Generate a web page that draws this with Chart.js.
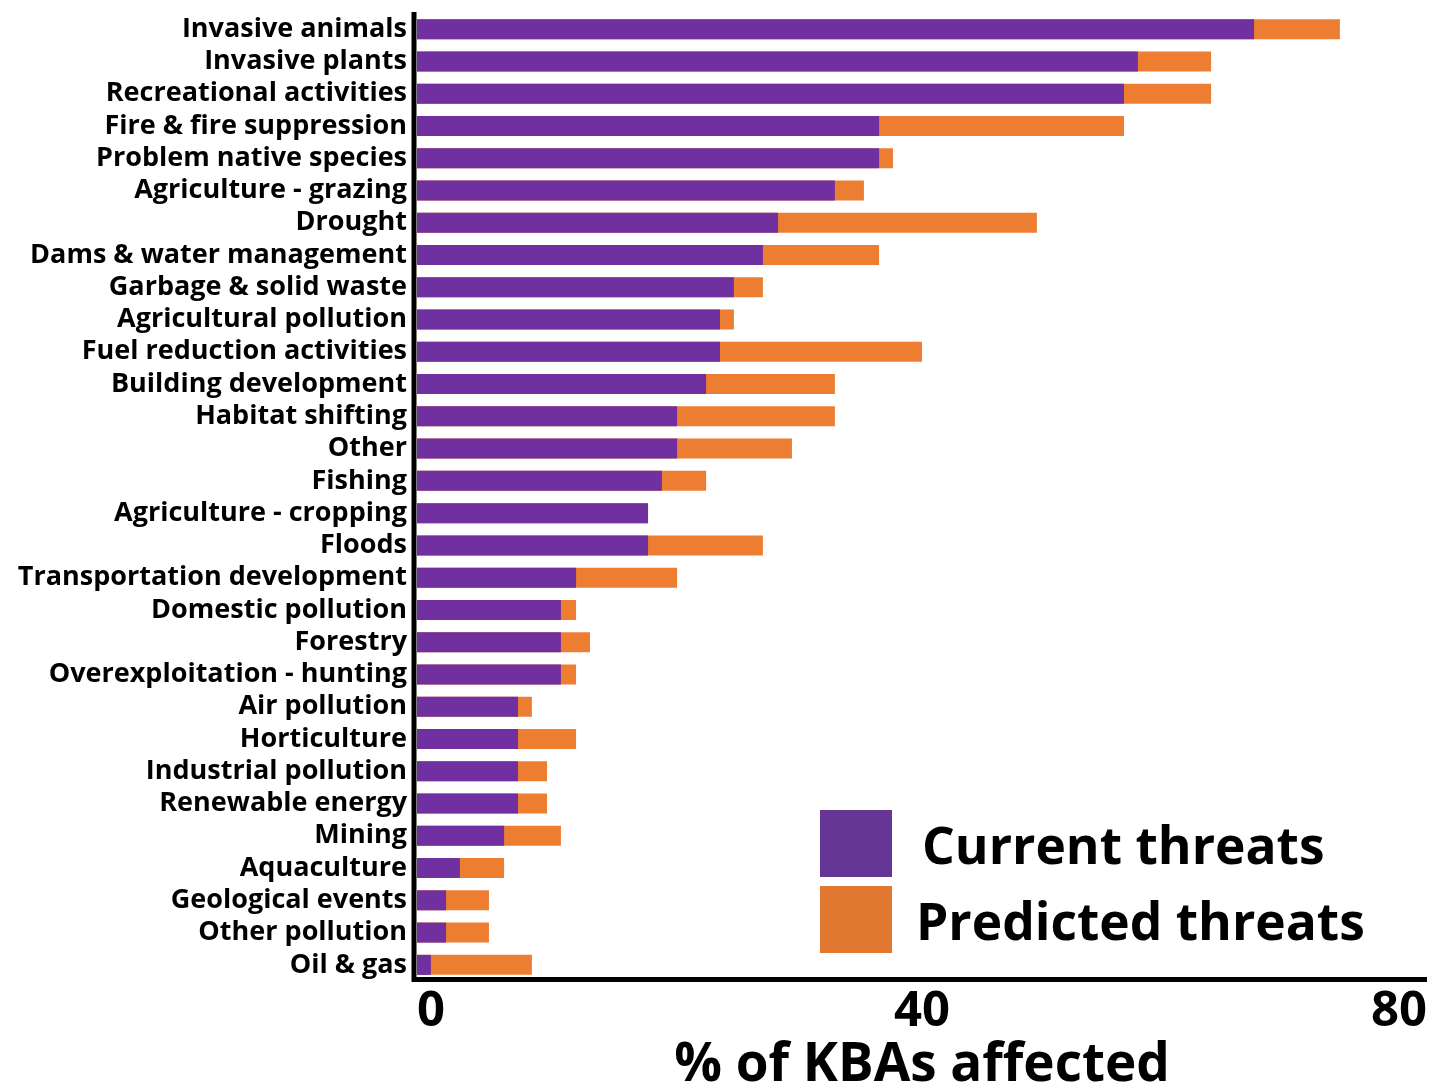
<!DOCTYPE html>
<html>
<head>
<meta charset="utf-8">
<script src="https://cdn.jsdelivr.net/npm/chart.js@4.4.1/dist/chart.umd.min.js"></script>
<style>
  html, body { margin: 0; padding: 0; background: #ffffff; }
  #wrap { position: relative; width: 1442px; height: 1085px; }
  #chart { position: absolute; left: 0; top: 0; }
  .swatch { position: absolute; width: 72px; height: 67px; }
  .ltext { position: absolute; font-family: "Open Sans", sans-serif; font-weight: 700;
           font-size: 51.5px; line-height: 1; color: #000; white-space: nowrap; }
</style>
</head>
<body>
<div id="wrap">
  <canvas id="chart" width="1442" height="1085"></canvas>
  <div class="swatch" style="left:820px; top:810px; background:#663694;"></div>
  <div class="swatch" style="left:820px; top:886px; background:#e0782f;"></div>
  <div class="ltext" style="left:922px; top:819px;">Current threats</div>
  <div class="ltext" style="left:916px; top:895px;">Predicted threats</div>
</div>
<script>
// Threat categories, top to bottom
const threats = [
  "Invasive animals", "Invasive plants", "Recreational activities",
  "Fire & fire suppression", "Problem native species", "Agriculture - grazing",
  "Drought", "Dams & water management", "Garbage & solid waste",
  "Agricultural pollution", "Fuel reduction activities", "Building development",
  "Habitat shifting", "Other", "Fishing", "Agriculture - cropping", "Floods",
  "Transportation development", "Domestic pollution", "Forestry",
  "Overexploitation - hunting", "Air pollution", "Horticulture",
  "Industrial pollution", "Renewable energy", "Mining", "Aquaculture",
  "Geological events", "Other pollution", "Oil & gas"
];

// % of KBAs affected by each threat now
const currentPct = [
  66.3, 57.1, 56.0, 36.6, 36.6, 33.1, 28.6, 27.4, 25.1, 24.0,
  24.0, 22.9, 20.6, 20.6, 19.4, 18.3, 18.3, 12.6, 11.4, 11.4,
  11.4, 8.0, 8.0, 8.0, 8.0, 6.9, 3.4, 2.3, 2.3, 1.1
];

// % of KBAs affected once predicted threats are included
const predictedPct = [
  73.1, 62.9, 62.9, 56.0, 37.7, 35.4, 49.1, 36.6, 27.4, 25.1,
  40.0, 33.1, 33.1, 29.7, 22.9, 18.3, 27.4, 20.6, 12.6, 13.7,
  12.6, 9.1, 12.6, 10.3, 10.3, 11.4, 6.9, 5.7, 5.7, 9.1
];

const xTicks = [0, 40, 80];

const PURPLE = "#7030a0";
const ORANGE = "#ed7d31";

// Thick black L-shaped axes drawn over the bars' base
const axisLines = {
  id: "axisLines",
  afterDatasetsDraw(chart) {
    const { ctx, chartArea } = chart;
    ctx.save();
    ctx.strokeStyle = "#000";
    ctx.lineWidth = 5;
    ctx.lineCap = "butt";
    ctx.beginPath();
    ctx.moveTo(chartArea.left - 3, 12);
    ctx.lineTo(chartArea.left - 3, chartArea.bottom);
    ctx.moveTo(chartArea.left - 5.5, chartArea.bottom - 1.5);
    ctx.lineTo(chartArea.right, chartArea.bottom - 1.5);
    ctx.stroke();
    ctx.restore();
  }
};

new Chart(document.getElementById("chart"), {
  type: "bar",
  data: {
    labels: threats,
    datasets: [
      { label: "Current threats", data: currentPct, backgroundColor: PURPLE, stack: "kba" },
      { label: "Predicted threats", data: predictedPct, backgroundColor: ORANGE, stack: "kba" }
    ]
  },
  options: {
    indexAxis: "y",
    responsive: false,
    animation: false,
    layout: { padding: { top: 13, right: 15, left: 0, bottom: 0 } },
    datasets: { bar: { categoryPercentage: 1.0, barPercentage: 0.62 } },
    plugins: { legend: { display: false }, tooltip: { enabled: false } },
    scales: {
      y: {
        stacked: true,
        grid: { display: false, drawTicks: false },
        border: { display: false },
        ticks: {
          color: "#000",
          padding: 10,
          autoSkip: false,
          font: { family: "Open Sans", weight: "bold", size: 27 }
        },
        afterFit(scale) {
          scale.width = 417;
          scale.paddingTop = 0;
          scale.paddingBottom = 0;
        }
      },
      x: {
        stacked: false,
        min: 0,
        max: 80,
        afterBuildTicks(scale) { scale.ticks = xTicks.map(v => ({ value: v })); },
        grid: { display: false, drawTicks: false },
        border: { display: false },
        ticks: {
          color: "#000",
          align: "inner",
          padding: 2,
          font: { family: "Open Sans", weight: "bold", size: 49 }
        },
        title: {
          display: true,
          text: "% of KBAs affected",
          color: "#000",
          padding: { top: 0, bottom: -7 },
          font: { family: "Open Sans", weight: "bold", size: 53, lineHeight: 1 }
        },
        afterFit(scale) {
          scale.height = 104;
          scale.paddingLeft = 0;
          scale.paddingRight = 0;
        }
      }
    }
  },
  plugins: [axisLines]
});
</script>
</body>
</html>
